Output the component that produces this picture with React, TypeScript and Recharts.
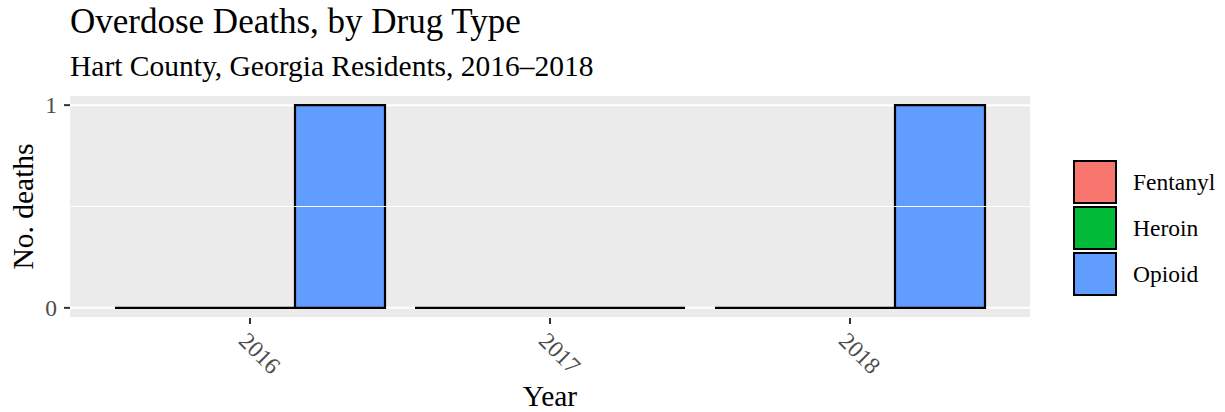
import React from 'react';
import {
  BarChart,
  Bar,
  XAxis,
  YAxis,
  CartesianGrid,
  ReferenceLine,
  Legend,
  Label,
} from 'recharts';

const years = ['2016', '2017', '2018'];
const fentanyl = [0, 0, 0];
const heroin = [0, 0, 0];
const opioid = [1, 0, 1];
const yTicks = [0, 1];

const data = years.map((year, i) => ({
  year,
  Fentanyl: fentanyl[i],
  Heroin: heroin[i],
  Opioid: opioid[i],
}));

const FONT = '"Liberation Serif", "Times New Roman", serif';

// rect drawn as a path so zero-height bars still leave the black outline
const OutlinedBar = (props: any) => {
  const { x, y, width, height, fill } = props;
  if (x == null || y == null) return null;
  const d = `M${x},${y} h${width} v${height} h${-width} Z`;
  return <path d={d} fill={fill} stroke="#000" strokeWidth={2.2} />;
};

const YearTick = ({ x, y, payload }: any) => {
  const cx = x + 10;
  const cy = y + 29;
  return (
    <text
      x={cx}
      y={cy}
      dy="0.35em"
      textAnchor="middle"
      transform={`rotate(45, ${cx}, ${cy})`}
      fill="#4d4d4d"
      fontSize={23.5}
      fontFamily={FONT}
    >
      {payload.value}
    </text>
  );
};

const KeyLegend = ({ payload }: any) => (
  <div style={{ fontFamily: FONT, fontSize: 23.5, color: '#000' }}>
    {(payload || []).map((entry: any) => (
      <div key={entry.value} style={{ display: 'flex', alignItems: 'center', height: 46 }}>
        <div
          style={{
            width: 40,
            height: 40,
            background: entry.color,
            border: '2px solid #000',
            marginRight: 16,
          }}
        />
        <span>{entry.value}</span>
      </div>
    ))}
  </div>
);

export default function App() {
  return (
    <div style={{ position: 'absolute', left: 0, top: 0, width: 1225, height: 412, background: '#fff' }}>
      <svg width={1225} height={90} style={{ position: 'absolute', left: 0, top: 0 }}>
        <text x={70} y={33} fontFamily={FONT} fontSize={35} fill="#000">
          Overdose Deaths, by Drug Type
        </text>
        <text x={70} y={76} fontFamily={FONT} fontSize={29.5} fill="#000">
          Hart County, Georgia Residents, 2016–2018
        </text>
      </svg>
      <BarChart
        width={1225}
        height={412}
        data={data}
        margin={{ top: 95, right: 195, bottom: 0, left: 0 }}
        barCategoryGap="5%"
        barGap={0}
      >
        <CartesianGrid fill="#ebebeb" stroke="#fff" strokeWidth={2} vertical={false} />
        <ReferenceLine y={0.5} stroke="#fff" strokeWidth={1} />
        <XAxis
          dataKey="year"
          height={94}
          padding={{ left: 30, right: 30 }}
          axisLine={false}
          tickLine={{ stroke: '#333', strokeWidth: 2 }}
          tickSize={6}
          tickMargin={0}
          tick={<YearTick />}
          interval={0}
        >
          <Label
            content={({ viewBox }: any) => (
              <text
                x={viewBox.x + viewBox.width / 2}
                y={406}
                textAnchor="middle"
                fontFamily={FONT}
                fontSize={29.5}
                fill="#000"
              >
                Year
              </text>
            )}
          />
        </XAxis>
        <YAxis
          width={70}
          type="number"
          domain={[-0.05, 1.05]}
          ticks={yTicks}
          axisLine={false}
          tickLine={{ stroke: '#333', strokeWidth: 2 }}
          tickSize={6}
          tickMargin={7}
          tick={{ fill: '#4d4d4d', fontSize: 23.5, fontFamily: FONT }}
        >
          <Label
            content={({ viewBox }: any) => {
              const cx = 33;
              const cy = viewBox.y + viewBox.height / 2;
              return (
                <text
                  x={cx}
                  y={cy}
                  textAnchor="middle"
                  transform={`rotate(-90, ${cx}, ${cy})`}
                  fontFamily={FONT}
                  fontSize={29.5}
                  fill="#000"
                >
                  No. deaths
                </text>
              );
            }}
          />
        </YAxis>
        <Legend
          layout="vertical"
          align="center"
          verticalAlign="middle"
          content={<KeyLegend />}
          wrapperStyle={{ left: 1073, top: 159, right: 'auto', bottom: 'auto', width: 152 }}
        />
        <Bar dataKey="Fentanyl" fill="#F8766D" shape={<OutlinedBar />} isAnimationActive={false} />
        <Bar dataKey="Heroin" fill="#00BA38" shape={<OutlinedBar />} isAnimationActive={false} />
        <Bar dataKey="Opioid" fill="#619CFF" shape={<OutlinedBar />} isAnimationActive={false} />
      </BarChart>
    </div>
  );
}
